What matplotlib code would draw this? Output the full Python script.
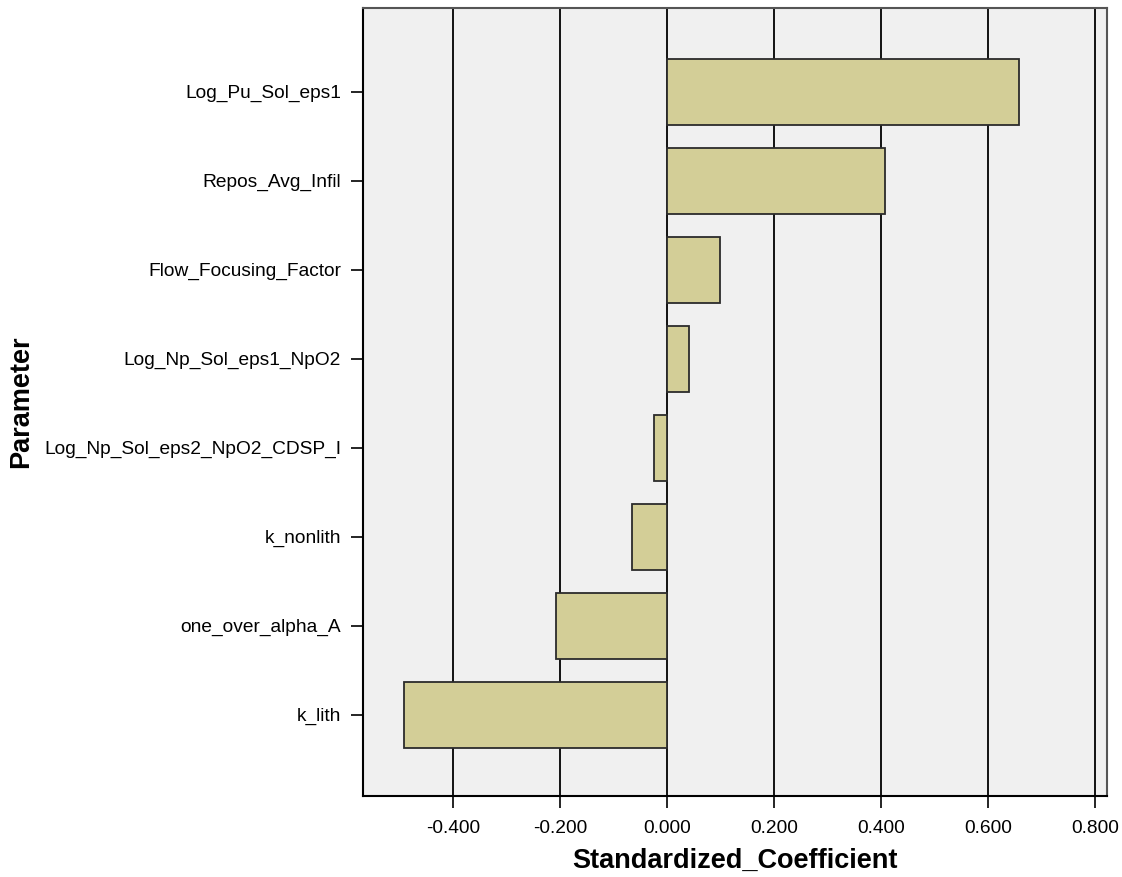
import matplotlib
matplotlib.use("Agg")
import matplotlib.pyplot as plt

# standardized regression coefficients, top to bottom
params = ["Log_Pu_Sol_eps1", "Repos_Avg_Infil", "Flow_Focusing_Factor",
          "Log_Np_Sol_eps1_NpO2", "Log_Np_Sol_eps2_NpO2_CDSP_I",
          "k_nonlith", "one_over_alpha_A", "k_lith"]
coef = [0.657, 0.407, 0.099, 0.041, -0.025, -0.066, -0.208, -0.493]
xticks = [-0.4, -0.2, 0.0, 0.2, 0.4, 0.6, 0.8]

plt.rcParams["font.family"] = ["Liberation Sans", "DejaVu Sans"]

fig = plt.figure(figsize=(11.22, 8.77), dpi=100)
ax = fig.add_axes([0.3233, 0.0927, 0.6631, 0.8982])
ax.set_facecolor("#f0f0f0")

# vertical reference lines behind the bars
for t in xticks:
    ax.axvline(t, color="black", lw=1.3, zorder=1)

ypos = list(range(len(params)))
ax.barh(ypos, coef, height=0.74, color="#d3ce97", edgecolor="#2b2b2b",
        linewidth=1.3, zorder=2)

ax.set_xlim(-0.5693, 0.8213)
ax.set_ylim(7.91, -0.94)
ax.set_yticks(ypos)
ax.set_yticklabels(params, fontsize=13.8)
ax.set_xticks(xticks)
ax.set_xticklabels(["%.3f" % t for t in xticks], fontsize=13.8)
ax.tick_params(axis="x", length=8.6, width=1.2, pad=9)
ax.tick_params(axis="y", length=8.6, width=1.2, pad=7)

for s in ax.spines.values():
    s.set_linewidth(1.5)
    s.set_color("black")
ax.spines["top"].set_color("#555555")
ax.spines["right"].set_color("#555555")

ax.set_xlabel("Standardized_Coefficient", fontsize=19.5, fontweight="bold", labelpad=8)
ax.set_ylabel("Parameter", fontsize=19.5, fontweight="bold")
ax.yaxis.set_label_coords(-0.442, 0.5)

fig.savefig("out.png", dpi=100)
